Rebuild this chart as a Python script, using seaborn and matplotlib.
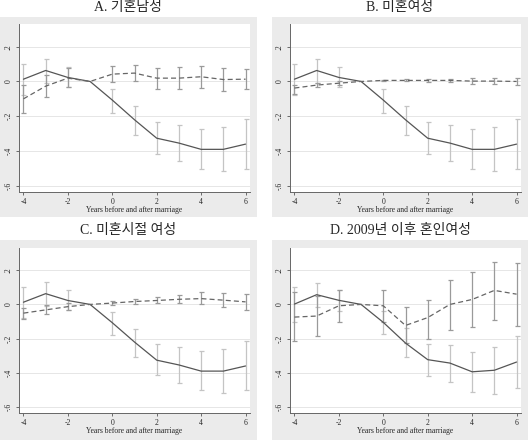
import numpy as np
import pandas as pd
import seaborn as sns
import matplotlib.pyplot as plt
from matplotlib.patches import Rectangle

# anni prima/dopo il matrimonio
years = [-4, -3, -2, -1, 0, 1, 2, 3, 4, 5, 6]
nan = np.nan

titles = ["A. 기혼남성", "B. 미혼여성", "C. 미혼시절 여성", "D. 2009년 이후 혼인여성"]

# linea continua (uguale nei pannelli A-C)
solid_abc = [0.013, 0.063, 0.023, 0, -0.107, -0.22, -0.326, -0.354, -0.39, -0.39, -0.36]
solid_abc_lo = [-0.078, -0.01, -0.034, nan, -0.179, -0.305, -0.415, -0.459, -0.503, -0.516, -0.503]
solid_abc_hi = [0.103, 0.13, 0.084, nan, -0.046, -0.141, -0.234, -0.251, -0.274, -0.259, -0.215]

solid_d = [0.002, 0.057, 0.024, 0, -0.105, -0.226, -0.323, -0.343, -0.394, -0.385, -0.337]
solid_d_lo = [-0.1, -0.015, -0.04, nan, -0.173, -0.307, -0.419, -0.451, -0.514, -0.522, -0.49]
solid_d_hi = [0.1, 0.128, 0.084, nan, -0.038, -0.14, -0.229, -0.236, -0.276, -0.251, -0.185]

# linea tratteggiata
dash_a = [-0.10, -0.027, 0.019, 0, 0.042, 0.048, 0.019, 0.019, 0.027, 0.011, 0.013]
dash_a_lo = [-0.179, -0.088, -0.034, nan, -0.005, 0.0, -0.042, -0.046, -0.038, -0.053, -0.046]
dash_a_hi = [-0.023, 0.035, 0.075, nan, 0.09, 0.097, 0.08, 0.084, 0.091, 0.078, 0.074]

dash_b = [-0.038, -0.021, -0.01, 0, 0.006, 0.006, 0.006, 0.006, 0.002, 0.002, 0]
dash_b_lo = [-0.074, -0.034, -0.019, nan, 0, 0, -0.002, -0.004, -0.013, -0.013, -0.021]
dash_b_hi = [-0.019, -0.008, 0.002, nan, 0.011, 0.013, 0.015, 0.015, 0.017, 0.017, 0.017]

dash_c = [-0.051, -0.032, -0.013, 0, 0.008, 0.017, 0.023, 0.03, 0.034, 0.025, 0.015]
dash_c_lo = [-0.084, -0.057, -0.032, nan, -0.006, 0.002, 0.006, 0.006, 0.0, -0.017, -0.034]
dash_c_hi = [-0.023, -0.006, 0.006, nan, 0.021, 0.032, 0.042, 0.057, 0.07, 0.069, 0.063]

dash_d = [-0.074, -0.068, -0.008, 0, -0.008, -0.123, -0.077, 0, 0.029, 0.082, 0.06]
dash_d_lo = [-0.211, -0.187, -0.1, nan, -0.105, -0.223, -0.204, -0.147, -0.131, -0.093, -0.128]
dash_d_hi = [0.07, 0.05, 0.084, nan, 0.086, -0.017, 0.024, 0.143, 0.187, 0.25, 0.244]

yticks = [0.2, 0, -0.2, -0.4, -0.6]
ytick_labels = [".2", "0", "-.2", "-.4", "-.6"]
xticks = [-4, -2, 0, 2, 4, 6]

panels = [
    (solid_abc, solid_abc_lo, solid_abc_hi, dash_a, dash_a_lo, dash_a_hi),
    (solid_abc, solid_abc_lo, solid_abc_hi, dash_b, dash_b_lo, dash_b_hi),
    (solid_abc, solid_abc_lo, solid_abc_hi, dash_c, dash_c_lo, dash_c_hi),
    (solid_d, solid_d_lo, solid_d_hi, dash_d, dash_d_lo, dash_d_hi),
]

sns.set_style("white")
plt.rcParams['font.family'] = ['Liberation Serif', 'Noto Sans CJK KR', 'DejaVu Sans']

W, H = 530, 440
fig = plt.figure(figsize=(W / 100, H / 100), dpi=100)

# riquadri in pixel: (sinistra, alto, larghezza, altezza)
boxes = [(0, 17, 257, 200), (272, 17, 256, 200), (0, 240, 257, 200), (272, 240, 256, 200)]
axes_px = [(19, 24, 231, 168), (290, 24, 231, 168), (19, 248, 231, 165), (290, 248, 231, 165)]
title_pos = [(128, 8), (400, 8), (128, 230), (400, 230)]


def grey_err(ax, x, lo, hi, color):
    lo = np.array(lo, dtype=float)
    hi = np.array(hi, dtype=float)
    mid = (lo + hi) / 2
    ax.errorbar(x, mid, yerr=[mid - lo, hi - mid], fmt='none', ecolor=color,
                elinewidth=0.9, capsize=1.8, capthick=0.9, zorder=2)


for i, (s, slo, shi, d, dlo, dhi) in enumerate(panels):
    bx, by, bw, bh = boxes[i]
    fig.patches.append(Rectangle((bx / W, 1 - (by + bh) / H), bw / W, bh / H,
                                 transform=fig.transFigure, facecolor='#ebebeb',
                                 edgecolor='none', zorder=-5))
    ax_l, ax_t, ax_w, ax_h = axes_px[i]
    ax = fig.add_axes([ax_l / W, 1 - (ax_t + ax_h) / H, ax_w / W, ax_h / H])
    ax.set_zorder(1)
    ax.set_facecolor('white')

    for yt in yticks:
        ax.axhline(yt, color='#e6e6e6', lw=0.7, zorder=0)

    grey_err(ax, years, slo, shi, '#c4c4c4')
    grey_err(ax, years, dlo, dhi, '#9a9a9a')

    df = pd.DataFrame({'year': years, 'solid': s, 'dash': d})
    sns.lineplot(data=df, x='year', y='solid', ax=ax, color='#555555', lw=0.9, zorder=3)
    sns.lineplot(data=df, x='year', y='dash', ax=ax, color='#666666', lw=0.9,
                 linestyle=(0, (4, 2.5)), zorder=3)

    ax.set_xlim(-4.2, 6.2)
    ax.set_ylim(-0.635, 0.33)
    ax.set_xticks(xticks)
    ax.set_xticklabels([str(t) for t in xticks], fontsize=5.5)
    ax.set_yticks(yticks)
    ax.set_yticklabels(ytick_labels, fontsize=5.5, rotation=90, va='center')
    ax.tick_params(axis='both', length=2.5, width=0.6, color='#555555', pad=2,
                   left=True, bottom=True)
    ax.set_xlabel('Years before and after marriage', fontsize=5.5, labelpad=0)
    ax.set_ylabel('')
    for side in ['top', 'right']:
        ax.spines[side].set_visible(False)
    for side in ['left', 'bottom']:
        ax.spines[side].set_color('#666666')
        ax.spines[side].set_linewidth(0.7)

    tx, ty = title_pos[i]
    fig.text(tx / W, 1 - ty / H, titles[i], ha='center', va='center', fontsize=10)

fig.savefig('out.png', dpi=100)
